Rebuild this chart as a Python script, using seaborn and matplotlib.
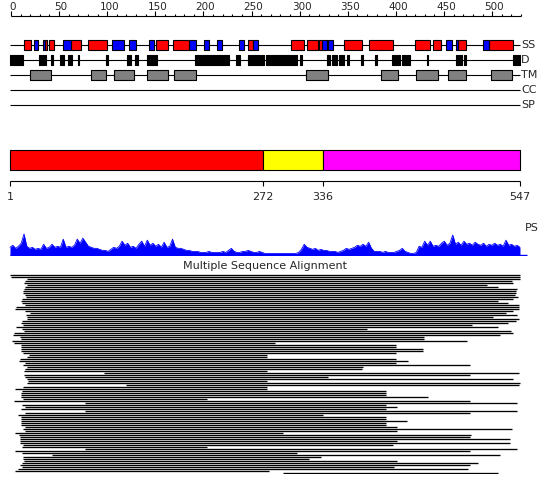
import matplotlib
matplotlib.use("Agg")
import matplotlib.pyplot as plt
import numpy as np
import pandas as pd
import seaborn as sns

sns.set_style("white")
plt.rcParams['font.family'] = ['DejaVu Sans']

# ---------------------------------------------------------------
# data (residue numbers)
seq_len = 547
ruler_len = 530

helix = [(16, 23), (38, 41), (43, 48), (66, 77), (84, 105), (157, 170), (175, 193),
         (256, 261), (302, 316), (319, 331), (332, 335), (359, 378), (385, 411),
         (435, 451), (454, 462), (481, 489), (514, 540)]
strand = [(27, 31), (36, 38), (58, 66), (110, 123), (128, 136), (150, 155), (193, 200),
          (209, 214), (223, 228), (246, 252), (261, 266), (335, 340), (341, 347),
          (468, 474), (478, 481), (507, 514)]
disorder = [(1, 15), (32, 34), (35, 37), (38, 40), (45, 47), (54, 59), (63, 67), (74, 75),
            (104, 106), (126, 128), (129, 131), (135, 138), (148, 158), (199, 235),
            (243, 247), (256, 273), (275, 308), (311, 314), (340, 344), (346, 351),
            (353, 359), (362, 364), (377, 379), (392, 394), (410, 419), (421, 429),
            (448, 449), (478, 485), (487, 489), (540, 547)]
transmem = [(22, 45), (88, 104), (112, 134), (148, 170), (177, 200), (318, 341),
            (398, 416), (436, 459), (470, 489), (516, 538)]
coiled = []
signal = []
track_names = ["SS", "D", "TM", "CC", "SP"]

domain_bounds = [1, 272, 336, 547]
domain_colors = ["#ff0000", "#ffff00", "#ff00ff"]

# PS profile, one value every 3 residues
ps_step = 3
ps_values = [8, 10, 7, 9, 12, 21, 9, 7, 8, 6, 7, 6, 11, 7, 8, 11, 8, 9, 8, 16,
             8, 9, 8, 10, 16, 12, 17, 13, 9, 8, 7, 7, 6, 5, 5, 4, 6, 8, 7, 9,
             14, 10, 12, 8, 9, 7, 11, 14, 9, 15, 10, 12, 9, 11, 8, 13, 8, 9, 16, 8,
             7, 7, 6, 5, 5, 4, 4, 4, 3, 3, 3, 4, 3, 3, 3, 3, 4, 3, 5, 7,
             4, 3, 3, 4, 4, 5, 4, 3, 3, 4, 3, 2, 2, 2, 2, 2, 2, 2, 2, 2,
             2, 2, 2, 3, 6, 11, 8, 7, 6, 7, 5, 6, 5, 5, 4, 4, 4, 3, 4, 5,
             7, 6, 7, 8, 10, 9, 11, 9, 13, 7, 4, 4, 4, 3, 4, 3, 3, 3, 4, 5,
             7, 4, 3, 2, 2, 3, 9, 8, 14, 10, 14, 9, 10, 9, 12, 14, 10, 12, 20, 11,
             13, 10, 14, 11, 12, 10, 13, 11, 10, 12, 9, 11, 10, 12, 10, 11, 9, 15, 10, 11,
             9, 10, 8]

# multiple sequence alignment: aligned start / end of each hit
msa_start = [1, 2, 19, 17, 16, 19, 17, 16, 15, 15, 17, 18, 14, 13, 14, 17, 7, 6, 17, 22,
             18, 19, 19, 14, 13, 15, 7, 14, 16, 5, 4, 12, 13, 3, 5, 13, 13, 13, 13, 15,
             21, 19, 12, 11, 17, 15, 19, 17, 16, 102, 16, 17, 19, 20, 19, 125, 15, 6, 14, 13,
             13, 13, 15, 5, 81, 14, 17, 13, 81, 17, 10, 13, 13, 13, 13, 13, 17, 15, 17, 6,
             11, 12, 12, 12, 12, 15, 14, 81, 6, 14, 46, 15, 15, 16, 14, 12, 14, 10, 6, 293]
msa_end = [547, 547, 547, 539, 540, 512, 523, 544, 543, 543, 542, 545, 540, 523, 534, 546, 546, 546, 540, 532,
           544, 518, 546, 543, 534, 496, 524, 383, 537, 540, 526, 444, 444, 490, 285, 414, 414, 443, 443, 414,
           276, 276, 414, 427, 414, 493, 379, 378, 276, 546, 493, 341, 540, 276, 547, 546, 276, 276, 404, 404,
           404, 449, 212, 493, 544, 404, 415, 404, 544, 493, 336, 404, 404, 426, 404, 404, 415, 538, 415, 293,
           495, 493, 536, 415, 536, 411, 212, 544, 493, 308, 526, 334, 321, 415, 502, 493, 412, 491, 278, 523]

# ---------------------------------------------------------------
W, H = 550, 495
fig = plt.figure(figsize=(W / 100, H / 100), dpi=100)
fig.patch.set_facecolor("white")

px_per_res = 0.934
xlim = (1 - 10 / px_per_res, 1 + (W - 10) / px_per_res)


def axes_px(top, bottom, lim=xlim):
    # axes over the full width, between two pixel rows
    a = fig.add_axes([0, 1 - bottom / H, 1, (bottom - top) / H])
    a.set_xlim(*lim)
    a.axis("off")
    return a


# main axes: y in pixel rows
ax = axes_px(0, H)
ax.set_ylim(H, 0)

# top ruler (own scale: 0..ruler_len over the track width)
r_px = 510 / ruler_len
ax_r = axes_px(0, 20, (-11 / r_px, (W - 11) / r_px))
ax_r.set_ylim(20, 0)
ax_r.hlines(16, 0, ruler_len, color="black", lw=0.8)
for t in range(0, ruler_len + 1, 10):
    major = t % 50 == 0
    ax_r.vlines(t, 11 if major else 13.5, 16, color="black", lw=0.8)
    if major:
        ax_r.text(t + 2, 6.5, str(t), ha="center", va="center", fontsize=7.5)

# feature tracks
track_y = dict(zip(track_names, [45, 60, 75, 90, 105]))
for name, y in track_y.items():
    ax.hlines(y, 1, seq_len, color="black", lw=0.8, zorder=1)
    ax.text(seq_len + 1.5, y, name, ha="left", va="center", fontsize=8)


def boxes(feats, y, color, h=10):
    spans = [(s, e - s) for s, e in feats]
    if spans:
        ax.broken_barh(spans, (y - h / 2, h), facecolors=color, edgecolors="black",
                       linewidth=0.8, zorder=2)


boxes(helix, track_y["SS"], "#ff0000")
boxes(strand, track_y["SS"], "#0000ff")
boxes(disorder, track_y["D"], "black")
boxes(transmem, track_y["TM"], "#808080")
boxes(coiled, track_y["CC"], "#00ff00")
boxes(signal, track_y["SP"], "#ffa500")

# domain bar
for i, c in enumerate(domain_colors):
    s, e = domain_bounds[i], domain_bounds[i + 1]
    ax.broken_barh([(s, e - s)], (150, 20), facecolors=c, edgecolors="black",
                   linewidth=0.8, zorder=2)
ax.hlines(180.5, 1, seq_len, color="black", lw=0.8)
for b in domain_bounds:
    ax.vlines(b, 180.5, 186, color="black", lw=0.8)
    ax.text(b, 197, str(b), ha="center", va="center", fontsize=8)

ax.text(seq_len + 5, 228, "PS", ha="left", va="center", fontsize=8)
ax.text((seq_len + 1) / 2, 266, "Multiple Sequence Alignment", ha="center",
        va="center", fontsize=8)

# PS profile
ax_ps = axes_px(232, 255.5)
ax_ps.set_ylim(0, 23)
ps = pd.DataFrame({"pos": np.arange(len(ps_values)) * ps_step + 1, "score": ps_values})
ax_ps.fill_between(ps["pos"], 0, ps["score"], color="#0000ff", lw=0)
sns.lineplot(data=ps, x="pos", y="score", ax=ax_ps, color="#0000ff", lw=0.6)
ax_ps.hlines(0.3, 1, seq_len + 7, color="#0000ff", lw=1)
ax_ps.set_xlim(*xlim)
ax_ps.axis("off")

# MSA
n = len(msa_start)
ax_msa = axes_px(274.3, 274.3 + 2 * n)
ax_msa.set_ylim(n - 0.5, -0.5)
msa = pd.DataFrame({"row": np.arange(n), "start": msa_start, "end": msa_end})
ax_msa.hlines(msa["row"], msa["start"], msa["end"], color="black", lw=0.95)

fig.savefig("out.png", dpi=100, facecolor="white")
